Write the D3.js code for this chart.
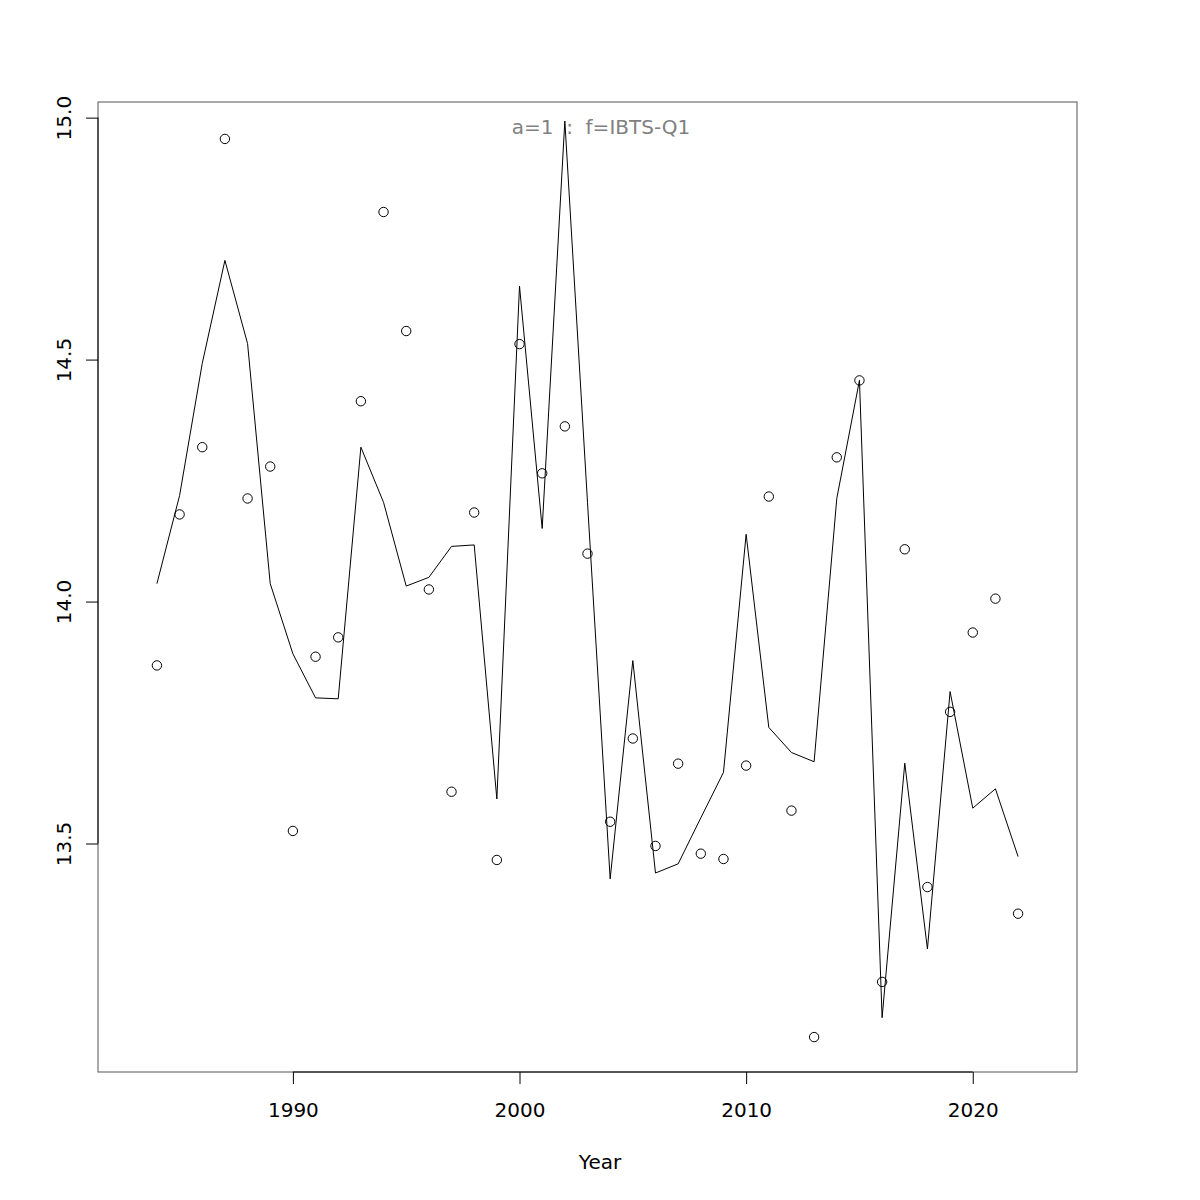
<!DOCTYPE html>
<html>
<head>
<meta charset="utf-8">
<script src="https://cdn.jsdelivr.net/npm/d3@7"></script>
<style>
  html, body { margin: 0; padding: 0; background: #fff; }
  svg { display: block; font-family: "DejaVu Sans", sans-serif; }
</style>
</head>
<body>
<svg id="chart" width="1200" height="1200"></svg>
<script>
const years = [1984,1985,1986,1987,1988,1989,1990,1991,1992,1993,1994,1995,1996,1997,1998,1999,2000,2001,2002,2003,2004,2005,2006,2007,2008,2009,2010,2011,2012,2013,2014,2015,2016,2017,2018,2019,2020,2021,2022];
const observed = [13.868,14.180,14.319,14.956,14.213,14.279,13.526,13.886,13.926,14.414,14.805,14.559,14.025,13.607,14.184,13.466,14.532,14.265,14.362,14.099,13.545,13.717,13.495,13.665,13.479,13.468,13.661,14.217,13.568,13.100,14.298,14.457,13.214,14.108,13.410,13.772,13.936,14.006,13.355];
const fitted = [14.037,14.219,14.492,14.705,14.533,14.037,13.892,13.801,13.799,14.319,14.205,14.032,14.050,14.114,14.117,13.592,14.652,14.151,14.993,14.205,13.427,13.878,13.439,13.458,13.553,13.647,14.139,13.740,13.688,13.669,14.213,14.457,13.140,13.666,13.282,13.814,13.573,13.613,13.473];
const xTicks = [1990, 2000, 2010, 2020];
const yTicks = [13.5, 14.0, 14.5, 15.0];
const xLim = [1983, 2023];
const titleText = "a=1  :  f=IBTS-Q1";
const xLabel = "Year";

(function () {
const svg = d3.select("#chart");
const pL = 98, pR = 1077, pT = 102, pB = 1072;

function expand(lim) {
  const d = (lim[1] - lim[0]) * 0.04;
  return [lim[0] - d, lim[1] + d];
}
const yLim = d3.extent(observed);

const x = d3.scaleLinear().domain(expand(xLim)).range([pL, pR]);
const y = d3.scaleLinear().domain(expand(yLim)).range([pB + 1, pT + 1]);

// box
svg.append("rect")
  .attr("x", pL).attr("y", pT)
  .attr("width", pR - pL).attr("height", pB - pT)
  .attr("fill", "none").attr("stroke", "#555").attr("stroke-width", 1);

// x axis
const xAxis = d3.axisBottom(x).tickValues(xTicks).tickFormat(d3.format("d"))
  .tickSizeInner(12).tickSizeOuter(0);
const gx = svg.append("g").attr("transform", `translate(0,${pB})`).call(xAxis);
gx.select(".domain").attr("d", `M${x(xTicks[0])},0H${x(xTicks[xTicks.length-1])}`).attr("stroke", "#000");
gx.selectAll(".tick line").attr("stroke", "#000");
gx.selectAll(".tick text").attr("font-size", 20).attr("font-family", "DejaVu Sans").attr("fill", "#000")
  .attr("dy", null).attr("y", 45);

// y axis
const yAxis = d3.axisLeft(y).tickValues(yTicks).tickFormat(d3.format(".1f"))
  .tickSizeInner(12).tickSizeOuter(0);
const gy = svg.append("g").attr("transform", `translate(${pL},0)`).call(yAxis);
gy.select(".domain").attr("d", `M0,${y(yTicks[0])}V${y(yTicks[yTicks.length-1])}`).attr("stroke", "#000");
gy.selectAll(".tick line").attr("stroke", "#000");
gy.selectAll(".tick text").attr("font-size", 20).attr("font-family", "DejaVu Sans").attr("fill", "#000")
  .attr("x", null).attr("dy", null)
  .attr("text-anchor", "middle")
  .attr("transform", "translate(-27,0) rotate(-90)");

// fitted line
const line = d3.line().x((d, i) => x(years[i])).y(d => y(d));
svg.append("path").datum(fitted)
  .attr("d", line).attr("fill", "none").attr("stroke", "#000").attr("stroke-width", 1);

// observed points
svg.append("g").selectAll("circle").data(observed).join("circle")
  .attr("cx", (d, i) => x(years[i])).attr("cy", d => y(d))
  .attr("r", 4.7).attr("fill", "none").attr("stroke", "#000").attr("stroke-width", 1);

// title inside
svg.append("text").attr("x", 601).attr("y", 134).attr("text-anchor", "middle")
  .attr("font-size", 20).attr("fill", "#808080").style("white-space", "pre")
  .text(titleText);

// x label
svg.append("text").attr("x", 600).attr("y", 1169).attr("text-anchor", "middle")
  .attr("font-size", 20).attr("fill", "#000").text(xLabel);
})();
</script>
</body>
</html>
